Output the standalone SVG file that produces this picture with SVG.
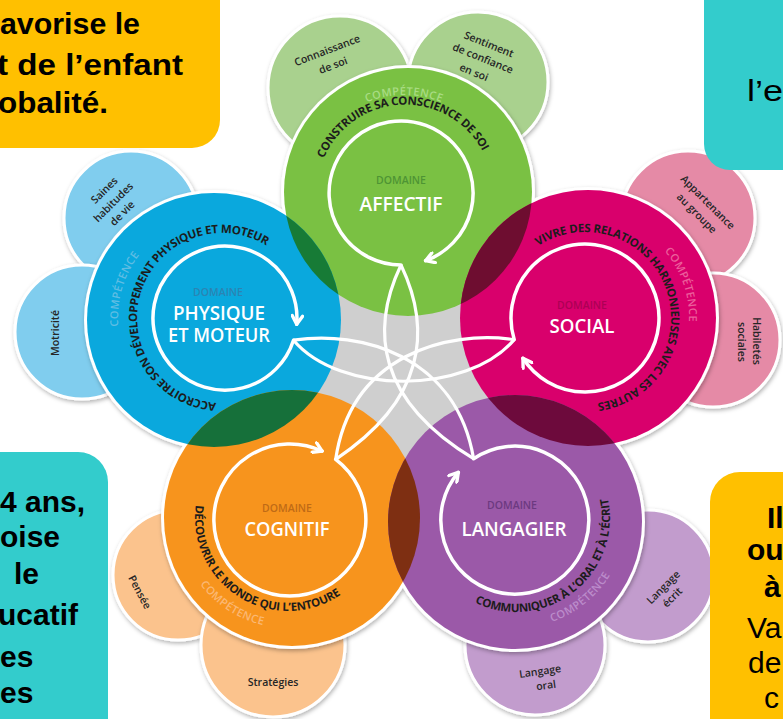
<svg xmlns="http://www.w3.org/2000/svg" width="783" height="719" viewBox="0 0 783 719">
<defs>
<style>
.petal{stroke:#fff;stroke-width:3;filter:url(#sh)}
.pt{font-family:"Open Sans","DejaVu Sans",sans-serif;font-weight:600;font-size:10.5px;fill:#262626;text-anchor:middle;dominant-baseline:central}
.dom{font-family:"Open Sans","DejaVu Sans",sans-serif;font-weight:600;font-size:10.5px;text-anchor:middle}
.big{font-family:"Open Sans","DejaVu Sans",sans-serif;font-weight:600;font-size:20px;fill:#fff;text-anchor:middle}
.comp{font-family:"Open Sans","DejaVu Sans",sans-serif;font-weight:700;font-size:11.5px;fill:#1c1c1c}
.lab{font-family:"Open Sans","DejaVu Sans",sans-serif;font-weight:600;font-size:11px}
.ring{fill:none;stroke:#fff;stroke-width:3.5;stroke-linecap:round;marker-end:url(#chev)}
.star{fill:none;stroke:#fff;stroke-width:3.2}
.bx{font-family:"Liberation Sans",Arial,sans-serif;font-size:30px;fill:#000}
.b{font-weight:700}
</style>
<filter id="sh" x="-20%" y="-20%" width="140%" height="140%"><feDropShadow dx="1" dy="2" stdDeviation="2" flood-color="#000" flood-opacity="0.3"/></filter>
<marker id="chev" viewBox="0 0 10 10" refX="8" refY="5" markerWidth="13" markerHeight="13" markerUnits="userSpaceOnUse" orient="auto"><path d="M1.5,1 L8,5 L1.5,9" fill="none" stroke="#fff" stroke-width="2.6" stroke-linecap="round" stroke-linejoin="round"/></marker>
<clipPath id="cG"><circle cx="408" cy="192" r="124"/></clipPath>
<clipPath id="cP"><circle cx="588" cy="318" r="128"/></clipPath>
<clipPath id="cO"><circle cx="292" cy="518" r="128"/></clipPath>
<clipPath id="cV"><circle cx="515" cy="522" r="127"/></clipPath>
<path id="tAff" d="M323.9,158.4 A88,88 0 0 1 483.4,152.7"/>
<path id="kAff" d="M339.7,118.4 A100,100 0 0 1 468.3,118.4"/>
<path id="tPhy" d="M216.1,402.8 A85,85 0 1 1 265.8,245.1"/>
<path id="kPhy" d="M124.3,353.6 A104,104 0 0 1 159.4,234.9"/>
<path id="tSoc" d="M538.2,245.9 A86,86 0 1 1 597,403.2"/>
<path id="kSoc" d="M644.7,232.8 A104,104 0 0 1 684.5,348.4"/>
<path id="tCog" d="M195.9,505.1 A93,93 0 0 0 341.3,594.2"/>
<path id="kCog" d="M184.6,555.6 A110,110 0 0 0 295.7,627.7"/>
<path id="tLan" d="M474.8,602.5 A94,94 0 0 0 607.9,498.5"/>
<path id="kLan" d="M519.8,627.9 A110,110 0 0 0 622.7,544.6"/>
</defs>
<rect width="783" height="719" fill="#fff"/>

<g id="petales">
  <g id="petale-connaissance"><circle class="petal" cx="340" cy="88" r="72" fill="#a9d18e"/>
    <text class="pt" transform="translate(327,50) rotate(-21)">Connaissance</text>
    <text class="pt" transform="translate(333,65) rotate(-21)">de soi</text></g>
  <g id="petale-sentiment"><circle class="petal" cx="478" cy="82" r="70" fill="#a9d18e"/>
    <text class="pt" transform="translate(489,44) rotate(22)">Sentiment</text>
    <text class="pt" transform="translate(483,58) rotate(22)">de confiance</text>
    <text class="pt" transform="translate(474,72) rotate(22)">en soi</text></g>
  <g id="petale-saines"><circle class="petal" cx="131" cy="218" r="67" fill="#80cdee"/>
    <text class="pt" transform="translate(104,190) rotate(-45)">Saines</text>
    <text class="pt" transform="translate(113,202) rotate(-45)">habitudes</text>
    <text class="pt" transform="translate(122,213) rotate(-45)">de vie</text></g>
  <g id="petale-motricite"><circle class="petal" cx="82" cy="332" r="67" fill="#80cdee"/>
    <text class="pt" transform="translate(55,333) rotate(-90)">Motricité</text></g>
  <g id="petale-appartenance"><circle class="petal" cx="688" cy="218" r="67" fill="#e58aa6"/>
    <text class="pt" transform="translate(708,202) rotate(45)">Appartenance</text>
    <text class="pt" transform="translate(697,213) rotate(45)">au groupe</text></g>
  <g id="petale-habiletes"><circle class="petal" cx="713" cy="340" r="67" fill="#e58aa6"/>
    <text class="pt" transform="translate(757,341) rotate(90)">Habiletés</text>
    <text class="pt" transform="translate(742,342) rotate(90)">sociales</text></g>
  <g id="petale-pensee"><circle class="petal" cx="178" cy="575" r="65" fill="#fbc38d"/>
    <text class="pt" transform="translate(140,592) rotate(62)">Pensée</text></g>
  <g id="petale-strategies"><circle class="petal" cx="273" cy="645" r="72" fill="#fbc38d"/>
    <text class="pt" transform="translate(273,682)">Stratégies</text></g>
  <g id="petale-ecrit"><circle class="petal" cx="648" cy="576" r="66" fill="#c29ccd"/>
    <text class="pt" transform="translate(663,587) rotate(-45)">Langage</text>
    <text class="pt" transform="translate(672,597) rotate(-45)">écrit</text></g>
  <g id="petale-oral"><circle class="petal" cx="535" cy="645" r="70" fill="#c29ccd"/>
    <text class="pt" transform="translate(540,671) rotate(-8)">Langage</text>
    <text class="pt" transform="translate(546,685) rotate(-8)">oral</text></g>
</g>

<g id="fleur">
  <g fill="#fff" filter="url(#sh)">
    <circle cx="408" cy="192" r="127"/><circle cx="214" cy="320" r="130"/><circle cx="588" cy="318" r="131"/><circle cx="292" cy="518" r="131"/><circle cx="515" cy="522" r="130"/>
  </g>
  <circle cx="403" cy="372" r="108" fill="#cfcfcf"/>
  <circle cx="408" cy="192" r="124" fill="#7ac143"/>
  <circle cx="214" cy="320" r="127" fill="#0aa8dd"/>
  <circle cx="588" cy="318" r="128" fill="#d9006c"/>
  <circle cx="292" cy="518" r="128" fill="#f7941d"/>
  <circle cx="515" cy="522" r="127" fill="#9b59a8"/>
  <circle cx="214" cy="320" r="127" fill="#177b36" clip-path="url(#cG)"/>
  <circle cx="588" cy="318" r="128" fill="#6e0d30" clip-path="url(#cG)"/>
  <circle cx="515" cy="522" r="127" fill="#6d0a3c" clip-path="url(#cP)"/>
  <circle cx="292" cy="518" r="128" fill="#7e2f12" clip-path="url(#cV)"/>
  <circle cx="214" cy="320" r="127" fill="#16703a" clip-path="url(#cO)"/>
</g>

<g id="domaine-affectif">
  <path class="ring" d="M401,265 A72,72 0 1 1 425.6,260.7"/>
  <text class="lab" fill="#a9dc84" letter-spacing="0.4"><textPath href="#kAff" startOffset="50%" text-anchor="middle">COMPÉTENCE</textPath></text>
  <text class="comp"><textPath href="#tAff" textLength="198" lengthAdjust="spacing">CONSTRUIRE SA CONSCIENCE DE SOI</textPath></text>
  <text class="dom" x="401" y="184" fill="#4e9434">DOMAINE</text>
  <text class="big" x="401" y="211" textLength="83" lengthAdjust="spacingAndGlyphs">AFFECTIF</text>
</g>
<g id="domaine-physique">
  <path class="ring" d="M293.5,340.2 A72,72 0 1 1 296.7,324.3"/>
  <text class="lab" fill="#5fbde3" letter-spacing="0.4"><textPath href="#kPhy" startOffset="50%" text-anchor="middle">COMPÉTENCE</textPath></text>
  <text class="comp"><textPath href="#tPhy" textLength="307" lengthAdjust="spacing">ACCROITRE SON DÉVELOPPEMENT PHYSIQUE ET MOTEUR</textPath></text>
  <text class="dom" x="218" y="296" fill="#2a84b3">DOMAINE</text>
  <text class="big" x="219" y="320" textLength="92" lengthAdjust="spacingAndGlyphs">PHYSIQUE</text>
  <text class="big" x="219" y="342" textLength="102" lengthAdjust="spacingAndGlyphs">ET MOTEUR</text>
</g>
<g id="domaine-social">
  <path class="ring" d="M514.2,339.6 A74,74 0 1 1 522.9,358.3"/>
  <text class="lab" fill="#ec5e9b" letter-spacing="0.4"><textPath href="#kSoc" startOffset="50%" text-anchor="middle">COMPÉTENCE</textPath></text>
  <text class="comp"><textPath href="#tSoc" textLength="307" lengthAdjust="spacing">VIVRE DES RELATIONS HARMONIEUSES AVEC LES AUTRES</textPath></text>
  <text class="dom" x="582" y="309" fill="#ad0055">DOMAINE</text>
  <text class="big" x="582" y="333" textLength="65" lengthAdjust="spacingAndGlyphs">SOCIAL</text>
</g>
<g id="domaine-cognitif">
  <path class="ring" d="M335.7,459.3 A76,76 0 1 1 322.1,451.1"/>
  <text class="lab" fill="#fbb874" letter-spacing="0.4"><textPath href="#kCog" startOffset="50%" text-anchor="middle">COMPÉTENCE</textPath></text>
  <text class="comp"><textPath href="#tCog" textLength="215" lengthAdjust="spacing">DÉCOUVRIR LE MONDE QUI L’ENTOURE</textPath></text>
  <text class="dom" x="287" y="512" fill="#bf6b16">DOMAINE</text>
  <text class="big" x="287" y="536" textLength="85" lengthAdjust="spacingAndGlyphs">COGNITIF</text>
</g>
<g id="domaine-langagier">
  <path class="ring" d="M473.6,458.7 A74,74 0 1 1 458.3,472.4"/>
  <text class="lab" fill="#bb8ccb" letter-spacing="0.4"><textPath href="#kLan" startOffset="50%" text-anchor="middle">COMPÉTENCE</textPath></text>
  <text class="comp"><textPath href="#tLan" textLength="210" lengthAdjust="spacing">COMMUNIQUER À L’ORAL ET À L’ÉCRIT</textPath></text>
  <text class="dom" x="512" y="509" fill="#6c3a80">DOMAINE</text>
  <text class="big" x="514" y="536" textLength="105" lengthAdjust="spacingAndGlyphs">LANGAGIER</text>
</g>

<g id="connecteurs">
  <path class="star" d="M401,265 C370,330 377,400 473.6,458.7"/>
  <path class="star" d="M401,265 C432,330 425,400 335.7,459.3"/>
  <path class="star" d="M293.5,340.2 C340,395 467,395 514.2,339.6"/>
  <path class="star" d="M293.5,340.2 C360,330 456,355 473.6,458.7"/>
  <path class="star" d="M514.2,339.6 C447,330 351,355 335.7,459.3"/>
</g>

<g id="encadre-haut-gauche">
  <rect x="-40" y="-40" width="260" height="188" rx="28" fill="#ffc000"/>
  <text class="bx b" x="0" y="34" textLength="140" lengthAdjust="spacingAndGlyphs">avorise le</text>
  <text class="bx b" x="-3" y="75" textLength="186" lengthAdjust="spacingAndGlyphs">t de l’enfant</text>
  <text class="bx b" x="-2" y="113" textLength="110" lengthAdjust="spacingAndGlyphs">obalité.</text>
</g>
<g id="encadre-haut-droite">
  <rect x="704" y="-40" width="120" height="210" rx="26" fill="#33cccc"/>
  <text class="bx" x="747" y="101" textLength="36" lengthAdjust="spacingAndGlyphs">l’e</text>
</g>
<g id="encadre-bas-gauche">
  <rect x="-40" y="452" width="148" height="310" rx="30" fill="#33cccc"/>
  <text class="bx b" x="0" y="512" textLength="85" lengthAdjust="spacingAndGlyphs">4 ans,</text>
  <text class="bx b" x="0" y="547">oise</text>
  <text class="bx b" x="14" y="584">le</text>
  <text class="bx b" x="-2" y="625" textLength="80" lengthAdjust="spacingAndGlyphs">ucatif</text>
  <text class="bx b" x="0" y="667">es</text>
  <text class="bx b" x="0" y="703">es</text>
</g>
<g id="encadre-bas-droite">
  <rect x="710" y="472" width="120" height="300" rx="30" fill="#ffc000"/>
  <text class="bx b" x="767" y="528">Il</text>
  <text class="bx b" x="747" y="560">ou</text>
  <text class="bx b" x="764" y="597">à</text>
  <text class="bx" x="747" y="638">Va</text>
  <text class="bx" x="748" y="673">de</text>
  <text class="bx" x="764" y="708">c</text>
</g>
</svg>
